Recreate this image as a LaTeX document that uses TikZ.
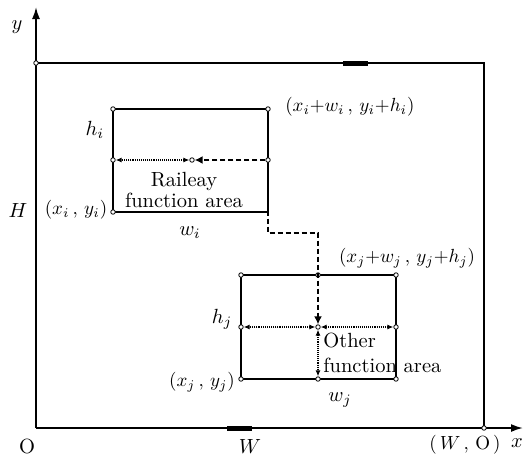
\documentclass[tikz,border=0pt]{standalone}
\usetikzlibrary{arrows.meta}
\begin{document}
\begin{tikzpicture}[x=1pt,y=-1pt,
  lab/.style={font=\fontsize{10}{11}\selectfont,scale=2.05,transform shape,inner sep=1pt},
  mlab/.style={font=\fontsize{10}{11}\selectfont,scale=1.9,transform shape,inner sep=1pt},
  pt/.style={circle,draw,fill=white,inner sep=0pt,minimum size=4.5pt,line width=0.8pt},
  axisline/.style={line width=1.8pt},
  box/.style={line width=1.1pt},
  dotarrow/.style={densely dotted,line width=1.1pt,{Latex[length=6pt,width=5pt]}-{Latex[length=6pt,width=5pt]}},
  thickdash/.style={line width=2.6pt,dash pattern=on 5pt off 3pt,-{Latex[length=8pt,width=8pt]}}
]
\useasboundingbox (0,0) rectangle (526,458);
% axes and outer frame
\coordinate (O) at (36,428);
\coordinate (ytip) at (36,7);
\coordinate (xtip) at (523,428);
\coordinate (TL) at (36,63);
\coordinate (TR) at (484,63);
\coordinate (BR) at (484,428);
\draw[axisline,-{Latex[length=12pt,width=8pt]}] (O) -- (ytip);
\draw[axisline,-{Latex[length=12pt,width=8pt]}] (O) -- (xtip);
\draw[axisline] (TL) -- (TR) -- (BR);
\coordinate (ta) at (343,63); \coordinate (tb) at (368,63);
\coordinate (ba) at (227,428); \coordinate (bb) at (252,428);
\draw[line width=5pt] (ta) -- (tb);
\draw[line width=5pt] (ba) -- (bb);
\node[pt] (tlpt) at (TL) {};
\node[pt] (brpt) at (BR) {};
% rectangle i
\coordinate (i1) at (113,109);
\coordinate (i2) at (268,109);
\coordinate (i3) at (268,212);
\coordinate (i4) at (113,212);
\draw[box] (i1) -- (i2) -- (i3) -- (i4) -- cycle;
\node[pt] (ia) at (i1) {};
\node[pt] (ib) at (i2) {};
\node[pt] (ic) at (i4) {};
\node[pt] (iL) at (113,160) {};
\node[pt] (iR) at (268,160) {};
\node[pt] (iM) at (192,160) {};
% rectangle j
\coordinate (j1) at (241,275);
\coordinate (j2) at (396,275);
\coordinate (j3) at (396,379);
\coordinate (j4) at (241,379);
\draw[box] (j1) -- (j2) -- (j3) -- (j4) -- cycle;
\node[pt] (ja) at (j1) {};
\node[pt] (jb) at (j2) {};
\node[pt] (jc) at (j3) {};
\node[pt] (jd) at (j4) {};
\node[pt] (jT) at (318,275) {};
\node[pt] (jL) at (241,327) {};
\node[pt] (jR) at (396,327) {};
\node[pt] (jB) at (318,379) {};
\node[pt] (jM) at (318,327) {};
% dotted arrows
\draw[dotarrow] (iM) -- (iL);
\draw[dotarrow] (jM) -- (jL);
\draw[dotarrow] (jM) -- (jR);
\draw[dotarrow] (jM) -- (jB);
% thick dashed path
\coordinate (k1) at (268,233);
\coordinate (k2) at (318,233);
\draw[thickdash] (iR) -- (iM);
\draw[thickdash] (iR) -- (k1) -- (k2) -- (jM);
% labels
\node[lab] (ylab) at (17,27) {$y$};
\node[lab] (Hlab) at (18,210) {$H$};
\node[lab] (Olab) at (27,446) {O};
\node[lab] (Wlab) at (250,446) {$W$};
\node[mlab] (WOlab) at (465,445) {$(\,W\,,\,\mathrm{O}\,)$};
\node[lab] (xlab) at (517,443) {$x$};
\node[mlab,anchor=west] (ilab1) at (283,107) {$(x_i{+}w_i\,,\,y_i{+}h_i)$};
\node[lab] (hilab) at (95,130) {$h_i$};
\node[mlab] (ilab2) at (76,210) {$(x_i\,,\,y_i)$};
\node[lab] (wilab) at (190,233) {$w_i$};
\node[lab,align=center,font=\fontsize{10}{10.7}\selectfont] (rail) at (184,190) {Raileay\\function area};
\node[mlab] (jlab1) at (407,258) {$(x_j{+}w_j\,,\,y_j{+}h_j)$};
\node[lab] (hjlab) at (222,319) {$h_j$};
\node[mlab] (jlab2) at (202,382) {$(x_j\,,\,y_j)$};
\node[lab] (wjlab) at (340,400) {$w_j$};
\node[lab,align=left,anchor=north west,inner sep=0pt,font=\fontsize{10}{12}\selectfont] (other) at (323,333) {Other\\function area};
\end{tikzpicture}
\end{document}
